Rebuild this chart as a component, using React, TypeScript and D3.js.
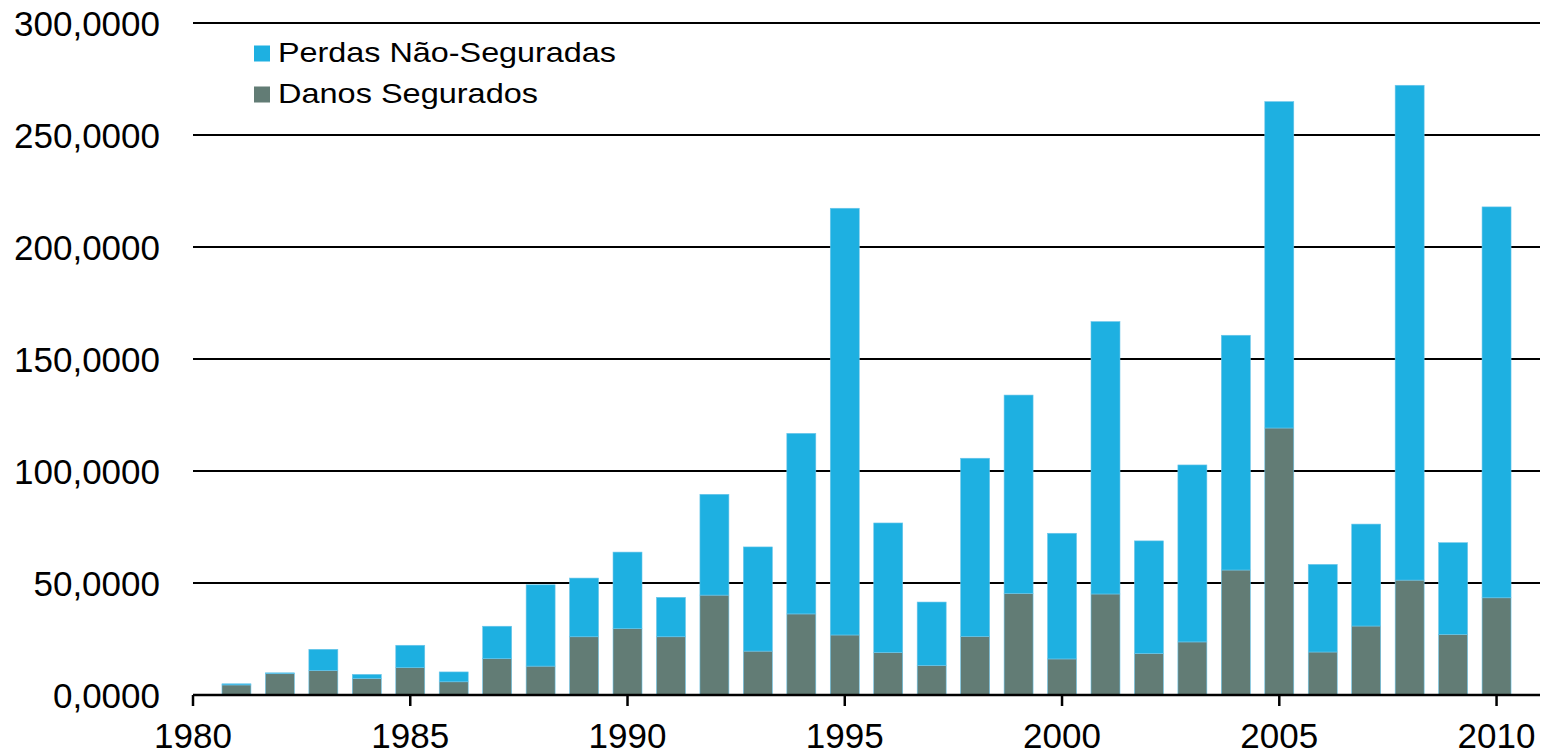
import React from "react";
import * as d3 from "d3";

const years = [1981,1982,1983,1984,1985,1986,1987,1988,1989,1990,1991,1992,1993,1994,1995,1996,1997,1998,1999,2000,2001,2002,2003,2004,2005,2006,2007,2008,2009,2010];
const totals = [5.0,9.9,20.4,9.2,22.2,10.3,30.7,49.2,52.2,63.8,43.6,89.6,66.1,116.8,217.3,76.8,41.5,105.7,133.9,72.2,166.7,68.8,102.7,160.6,264.9,58.3,76.3,272.2,68.0,217.9];
const insured = [4.5,9.5,10.9,7.4,12.2,5.9,16.2,12.9,26.0,29.6,26.0,44.6,19.6,36.2,26.8,19.0,13.2,26.2,45.4,16.1,45.1,18.6,23.7,55.8,119.2,19.2,30.8,51.3,27.1,43.4];
const uninsured = totals.map((t, i) => t - insured[i]);
const yTicks = [0, 50, 100, 150, 200, 250, 300];
const xTicks = [1980, 1985, 1990, 1995, 2000, 2005, 2010];
const seriesNames = ["Perdas Não-Seguradas", "Danos Segurados"];
const legendWidths = [338, 260];
const colors = ["#1EB0E1", "#627C75"];

export default function App() {
  const W = 1546, H = 751;
  const left = 193, right = 1540, top = 23, bottom = 695;
  const x = d3.scaleLinear().domain([1980, 2011]).range([left, right]);
  const y = d3.scaleLinear().domain([0, 300]).range([bottom, top]);
  const bw = (x(1981) - x(1980)) * 0.667;
  const fmt = (v: number) => v.toFixed(4).replace(".", ",");
  const font = "Liberation Sans, Arial, sans-serif";

  return (
    <svg width={W} height={H} style={{ position: "absolute", left: 0, top: 0, background: "#fff" }}>
      {yTicks.filter(t => t > 0).map(t => (
        <line key={"g" + t} x1={left} x2={right} y1={y(t)} y2={y(t)} stroke="#000" strokeWidth={2} />
      ))}
      {years.map((yr, i) => (
        <g key={yr}>
          <rect x={x(yr) - bw / 2} y={y(insured[i])} width={bw} height={y(0) - y(insured[i])} fill={colors[1]} stroke="#6cc6ea" strokeWidth={0.6} />
          <rect x={x(yr) - bw / 2} y={y(insured[i] + uninsured[i])} width={bw} height={y(insured[i]) - y(insured[i] + uninsured[i])} fill={colors[0]} stroke="#6cc6ea" strokeWidth={0.6} />
        </g>
      ))}
      <line x1={left} x2={right} y1={bottom} y2={bottom} stroke="#000" strokeWidth={2.5} />
      {xTicks.map(t => (
        <g key={"x" + t}>
          <line x1={x(t)} x2={x(t)} y1={bottom} y2={bottom + 11} stroke="#000" strokeWidth={2.5} />
          <text x={x(t)} y={748} textAnchor="middle" fontFamily={font} fontSize={35} fill="#000">{t}</text>
        </g>
      ))}
      {yTicks.map(t => (
        <text key={"y" + t} x={160} y={y(t) + 12.5} textAnchor="end" fontFamily={font} fontSize={35} fill="#000">{fmt(t)}</text>
      ))}
      {seriesNames.map((n, i) => (
        <g key={n}>
          <rect x={254} y={45.5 + i * 41} width={16} height={16} fill={colors[i]} />
          <text x={278} y={62 + i * 41} fontFamily={font} fontSize={28} fill="#000" textLength={legendWidths[i]} lengthAdjust="spacingAndGlyphs">{n}</text>
        </g>
      ))}
    </svg>
  );
}
